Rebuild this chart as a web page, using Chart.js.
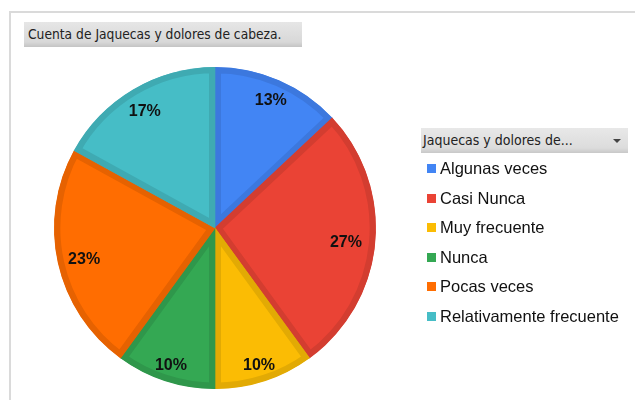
<!DOCTYPE html>
<html>
<head>
<meta charset="utf-8">
<script src="https://cdn.jsdelivr.net/npm/chart.js@4"></script>
<style>
  html, body { margin: 0; padding: 0; background: #fff; }
  #wrap { position: relative; width: 635px; height: 400px; overflow: hidden; }
  #frame { position: absolute; left: 9px; top: 11px; width: 640px; height: 400px; border-left: 2px solid #dadada; border-top: 2px solid #dadada; box-sizing: border-box; }
  #c { position: absolute; left: 0; top: 0; }
  #title { position: absolute; left: 24px; top: 22px; width: 278px; height: 25px; box-sizing: border-box;
    background: linear-gradient(#e6e6e6, #d8d8d8 80%, #c4c4c4); font-family: "DejaVu Sans Condensed", "DejaVu Sans", sans-serif; font-size: 13.7px; color: #222; line-height: 25px; padding-left: 4px; white-space: nowrap; }
  #lhead { position: absolute; left: 421px; top: 128px; width: 207px; height: 25px; box-sizing: border-box;
    background: linear-gradient(#e8e8e8, #dcdcdc 80%, #c8c8c8); font-family: "DejaVu Sans Condensed", "DejaVu Sans", sans-serif; font-size: 14px; color: #222; line-height: 25px; padding-left: 2px; white-space: nowrap; }
  #lhead .arr { position: absolute; left: 192px; top: 11px; width: 0; height: 0; border-left: 4px solid transparent; border-right: 4px solid transparent; border-top: 4px solid #444; }
  .li { position: absolute; left: 427px; height: 20px; font-family: "Liberation Sans", Arial, sans-serif; font-size: 16.5px; color: #111; white-space: nowrap; line-height: 20px; }
  .li .sw { position: absolute; left: 0; top: 6px; width: 9px; height: 9px; }
  .li .tx { position: absolute; left: 13px; top: 0; }
</style>
</head>
<body>
<div id="wrap">
  <div id="frame"></div>
  <canvas id="c" width="635" height="400"></canvas>
  <div id="title">Cuenta de Jaquecas y dolores de cabeza.</div>
  <div id="lhead">Jaquecas y dolores de...<span class="arr"></span></div>
  <div id="legend"></div>
</div>
<script>
const categories = ["Algunas veces", "Casi Nunca", "Muy frecuente", "Nunca", "Pocas veces", "Relativamente frecuente"];
const values = [13, 27, 10, 10, 23, 17];
const fillColors = ["#4285F4", "#EA4335", "#FBBC04", "#34A853", "#FF6D01", "#46BDC6"];
const borderColors = ["#3c78de", "#d33d30", "#e2aa04", "#2f974b", "#e66201", "#3faab2"];

// HTML legend built from the arrays
const legendEl = document.getElementById('legend');
categories.forEach((name, i) => {
  const d = document.createElement('div');
  d.className = 'li';
  d.style.top = (158 + i * 29.5) + 'px';
  d.innerHTML = '<span class="sw" style="background:' + fillColors[i] + '"></span><span class="tx"></span>';
  d.querySelector('.tx').textContent = name;
  legendEl.appendChild(d);
});

const labelPlugin = {
  id: 'pctLabels',
  afterDatasetsDraw(chart) {
    const ctx = chart.ctx;
    const meta = chart.getDatasetMeta(0);
    const data = chart.data.datasets[0].data;
    const total = data.reduce((a, b) => a + b, 0);
    ctx.save();
    ctx.font = 'bold 16px "Liberation Sans", Arial, sans-serif';
    ctx.fillStyle = '#111';
    ctx.textAlign = 'center';
    ctx.textBaseline = 'middle';
    meta.data.forEach((arc, i) => {
      const p = arc.getProps(['x', 'y', 'startAngle', 'endAngle', 'outerRadius'], true);
      const mid = (p.startAngle + p.endAngle) / 2;
      const frac = data[i] / total;
      const r = p.outerRadius * (0.925 - 0.4 * frac);
      const x = p.x + Math.cos(mid) * r;
      const y = p.y + Math.sin(mid) * r + 2;
      ctx.fillText(Math.round(frac * 100) + '%', x, y);
    });
    ctx.restore();
  }
};

new Chart(document.getElementById('c'), {
  type: 'pie',
  data: {
    labels: categories,
    datasets: [{
      data: values,
      backgroundColor: fillColors,
      borderColor: borderColors,
      hoverBackgroundColor: fillColors,
      hoverBorderColor: borderColors,
      borderWidth: 6,
      hoverBorderWidth: 6,
      borderAlign: 'inner'
    }]
  },
  options: {
    responsive: false,
    animation: false,
    events: [],
    layout: { padding: { left: 54, top: 67, right: 259, bottom: 11 } },
    plugins: {
      legend: { display: false },
      title: { display: false },
      tooltip: { enabled: false }
    }
  },
  plugins: [labelPlugin]
});
</script>
</body>
</html>
